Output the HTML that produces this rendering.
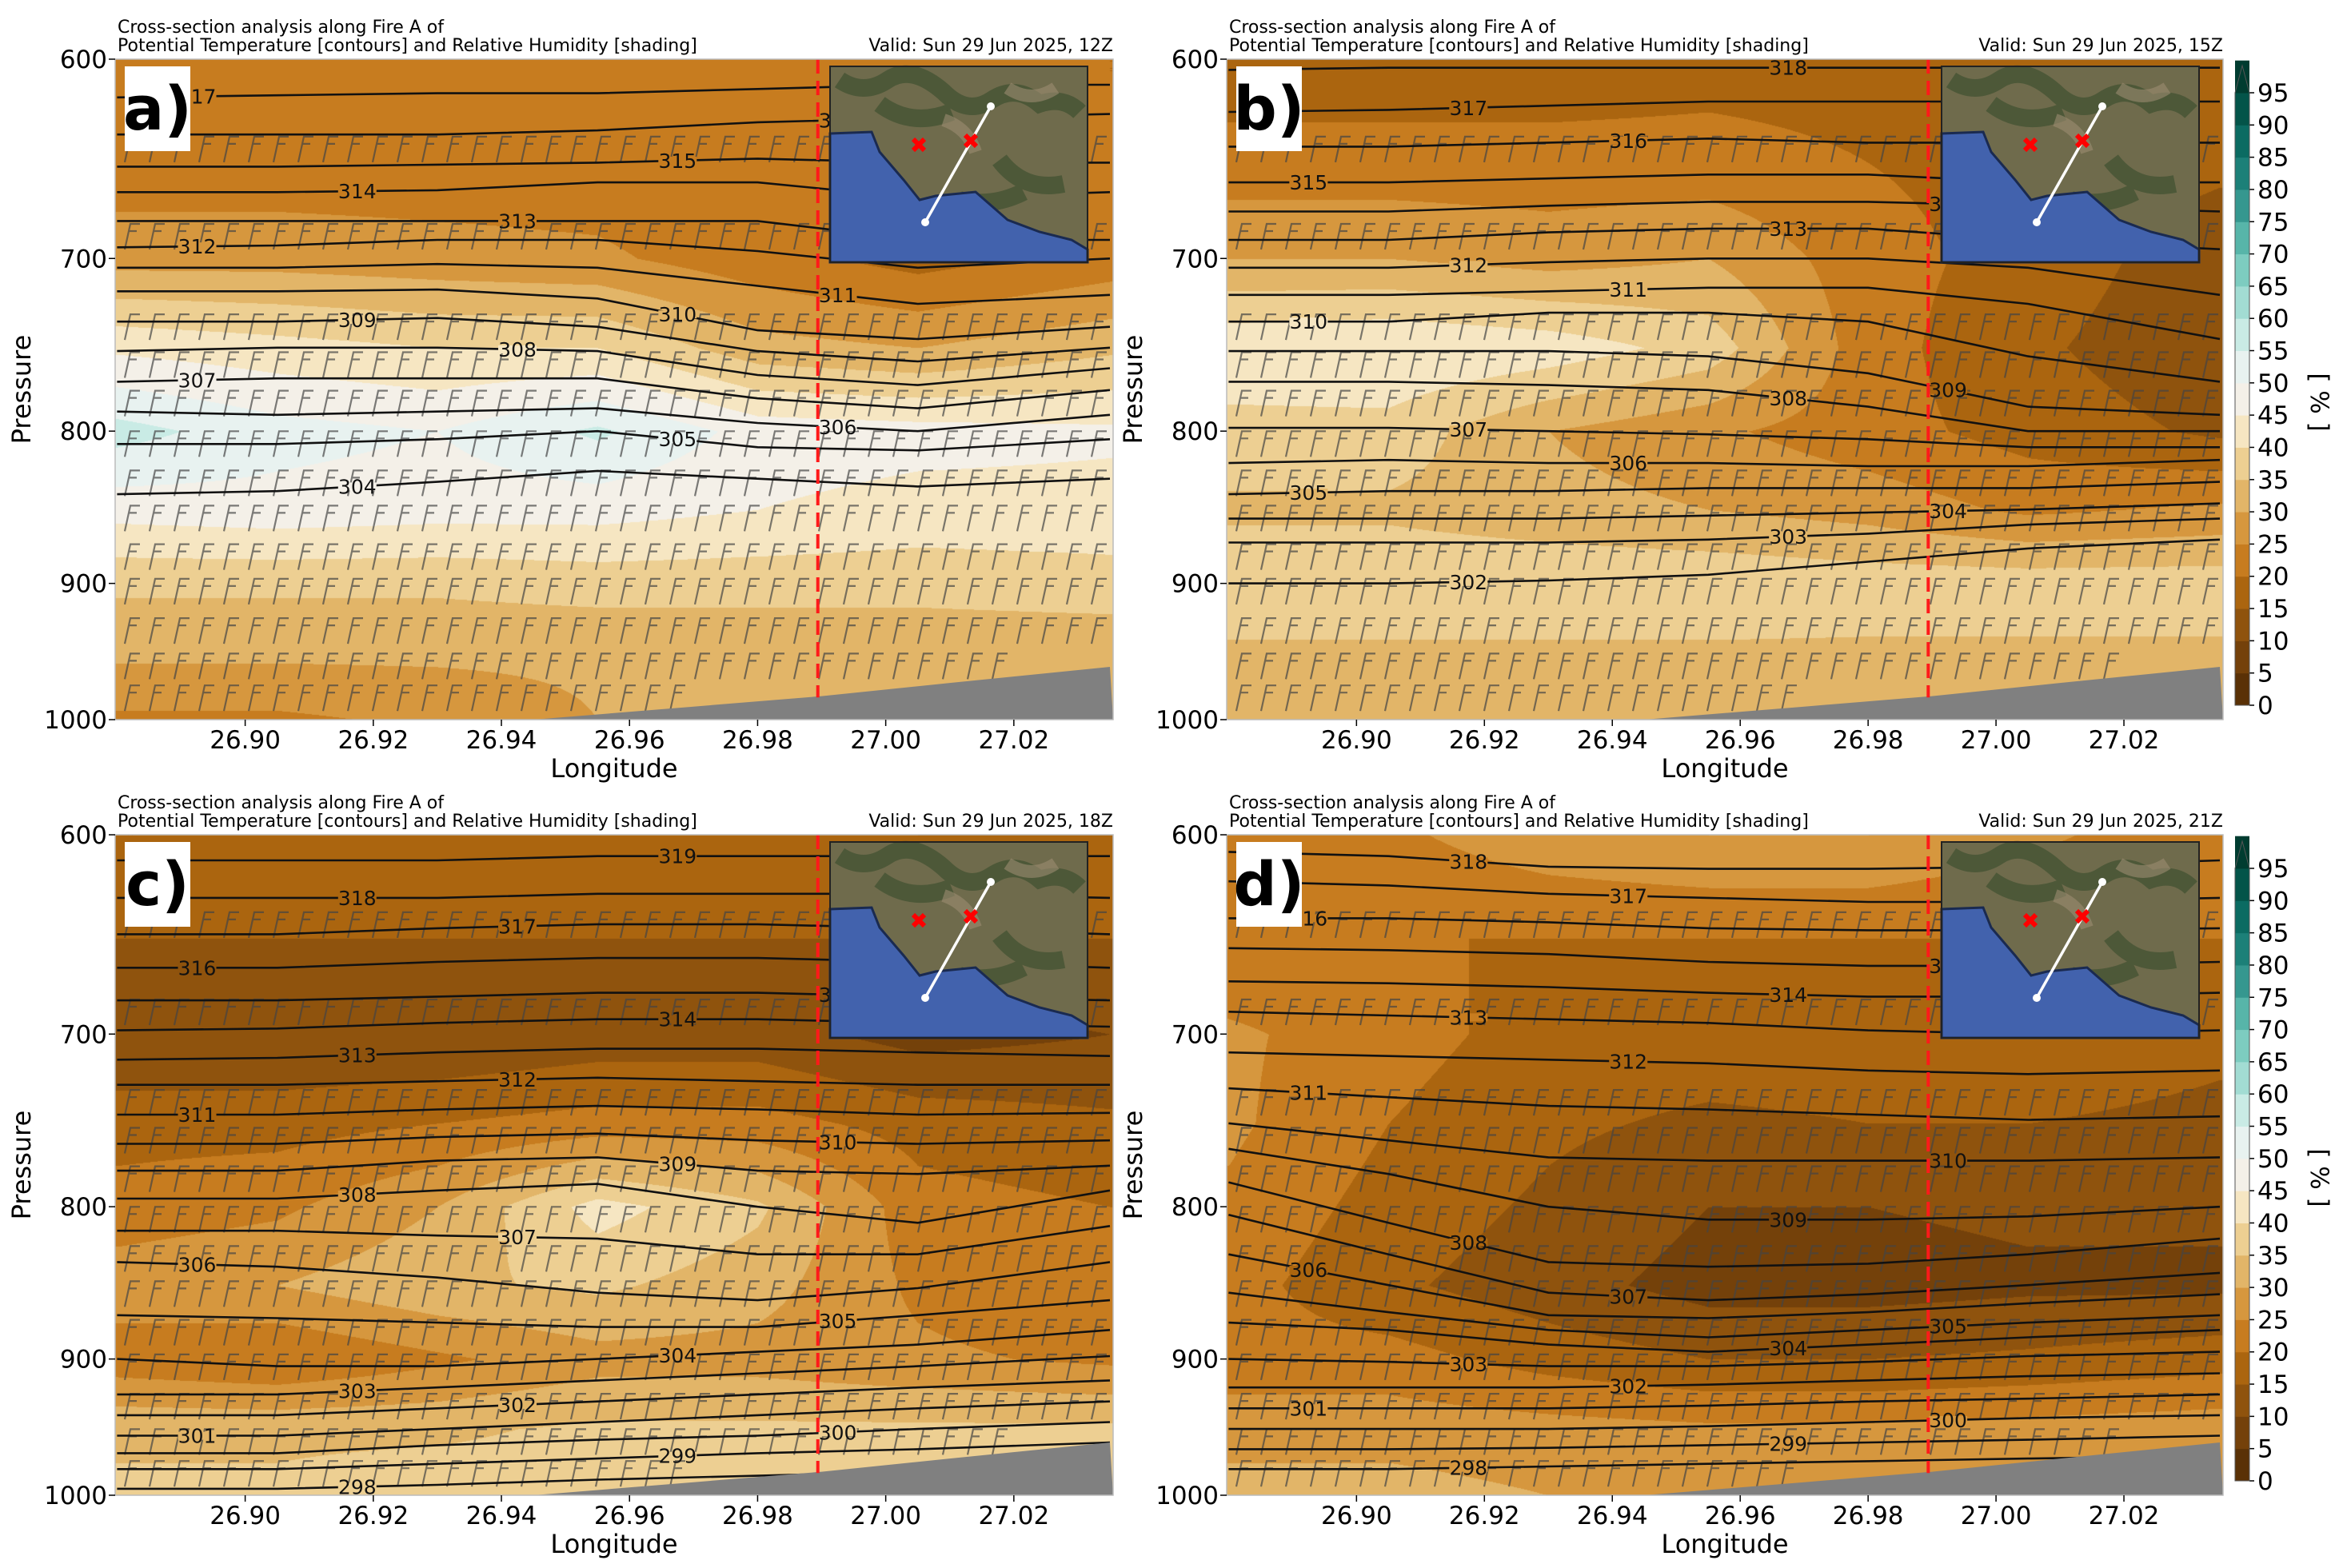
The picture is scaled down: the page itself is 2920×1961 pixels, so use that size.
<!DOCTYPE html>
<html><head><meta charset="utf-8"><style>
html,body{margin:0;padding:0;background:#fff}
#wrap{position:relative;width:2920px;height:1961px;overflow:hidden}
canvas,svg{position:absolute;left:0;top:0}
text{font-family:"DejaVu Sans","Liberation Sans",sans-serif}
</style></head><body>
<div id="wrap">
<canvas id="cv" width="2920" height="1961"></canvas>
<svg id="sv" width="2920" height="1961" xmlns="http://www.w3.org/2000/svg"></svg>
</div>
<script>
// ---- data ----
const lonCols = [26.88, 26.905, 26.93, 26.955, 26.98, 27.005, 27.035];
const presRows = [600, 650, 700, 750, 800, 850, 900, 950, 1000];
const pTicks = [600, 700, 800, 900, 1000];
const lonTicks = [26.90, 26.92, 26.94, 26.96, 26.98, 27.00, 27.02];
const cbLevels = [0,5,10,15,20,25,30,35,40,45,50,55,60,65,70,75,80,85,90,95];
const barbLevels = [645,690,740,762,785,810,835,858,884,908,936,962,986];
const panelLetters = ["a)","b)","c)","d)"];
const panelTimes = ["12Z","15Z","18Z","21Z"];
const rhA = [
[22,22,22,22,22,22,20],[22,22,22,22,20,20,20],[28,28,27,26,22,18,22],[44,42,40,40,32,30,34],
[57,52,50,56,48,47,46],[47,48,47,47,45,43,43],[36,36,36,37,37,37,38],[31,31,31,31,31,31,31],[24,24,26,30,30,30,30]];
const rhB = [
[17,17,17,18,18,18,16],[22,22,22,22,20,18,16],[30,30,28,30,22,18,12],[44,45,43,38,22,16,11],
[38,38,30,26,22,18,14],[34,34,32,30,28,24,26],[39,39,39,39,38,38,38],[34,34,34,34,34,34,34],[30,30,30,30,30,30,30]];
const rhC = [
[20,20,20,20,20,20,18],[15,15,15,15,15,15,15],[10,10,10,12,12,8,10],[18,18,20,22,22,18,16],
[22,24,30,42,36,22,20],[28,30,34,36,32,24,20],[22,20,24,28,28,26,24],[34,34,34,36,36,36,36],[36,36,38,38,38,38,38]];
const rhD = [
[22,24,28,30,30,26,22],[20,20,20,20,20,20,20],[26,22,18,18,18,18,16],[26,20,16,14,15,15,14],
[24,18,14,10,10,11,11],[22,16,12,8,8,9,9],[22,22,18,15,15,16,18],[28,28,27,26,26,27,28],[32,32,30,30,30,30,30]];
const thetaA = {317:[618,617,616,616,614,612,612],316:[636,636,636,634,630,628,626],315:[652,652,651,650,648,650,650],
314:[665,665,664,660,660,668,665],313:[680,680,680,680,680,690,690],312:[694,693,690,690,696,705,700],
311:[705,705,703,705,715,725,720],310:[718,718,717,722,740,745,738],309:[735,735,733,738,752,758,750],
308:[752,750,750,752,766,772,762],307:[770,768,768,768,780,786,775],306:[788,790,788,786,795,800,790],
305:[808,808,805,800,810,812,805],304:[840,838,832,825,830,835,830]};
const thetaB = {318:[605,604,604,604,604,604,604],317:[625,624,622,620,620,620,620],316:[642,642,640,638,640,640,640],
315:[660,660,658,656,656,660,660],314:[675,675,672,670,670,672,675],313:[690,690,686,684,684,690,695],
312:[705,705,702,700,700,705,720],311:[720,720,718,716,716,725,745],310:[735,735,730,730,735,755,770],
309:[752,752,752,755,765,785,790],308:[770,770,772,775,785,800,800],307:[798,798,800,802,805,810,810],
306:[820,818,820,820,822,822,818],305:[840,838,838,836,836,836,832],304:[856,856,856,854,852,850,846],
303:[872,872,872,870,866,860,856],302:[900,900,898,894,885,876,870]};
const thetaC = {319:[612,612,612,610,610,610,610],318:[630,630,630,628,628,628,630],317:[648,648,645,643,643,645,648],
316:[665,665,662,660,660,662,665],315:[682,682,680,678,678,680,682],314:[698,697,694,692,692,694,696],
313:[714,713,710,708,708,710,712],312:[728,728,726,724,726,728,728],311:[745,745,742,740,742,745,744],
310:[762,762,758,756,760,762,760],309:[778,778,772,770,778,780,775],308:[795,795,790,786,800,810,790],
307:[815,815,818,820,830,830,812],306:[835,838,845,855,860,852,835],305:[870,872,875,878,878,870,860],
304:[900,905,905,900,895,890,880],303:[925,925,920,915,910,905,898],302:[940,940,935,930,925,920,915],
301:[955,955,950,945,940,935,930],300:[968,968,962,958,955,950,945],299:[980,980,976,972,968,965,960],
298:[995,995,992,988,985,982,978]};
const thetaD = {318:[608,610,615,616,616,615,612],317:[622,624,628,630,632,632,630],316:[640,640,642,645,646,646,645],
315:[655,656,658,662,664,664,662],314:[672,673,675,678,680,680,678],313:[688,690,692,694,698,700,698],
312:[710,712,714,716,720,722,720],311:[730,735,740,742,745,748,746],310:[750,760,770,772,772,772,770],
309:[765,780,800,808,808,806,800],308:[785,810,835,838,836,830,820],307:[805,830,855,860,856,850,842],
306:[830,850,870,872,868,862,856],305:[855,868,880,885,880,875,870],304:[875,880,890,895,890,885,880],
303:[900,902,905,905,902,898,895],302:[920,920,920,918,915,912,910],301:[935,935,935,933,930,928,925],
300:[950,950,950,948,945,942,940],299:[965,965,964,962,960,958,955],298:[980,980,978,976,974,972,970]};
const terrainLon = [26.945, 26.97, 26.99, 27.01, 27.035];
const terrainP = [1000, 990, 982, 972, 960];
const crossLon = 26.9894;

// ---- layout ----
const panels = [
 {x:144,y:74,w:1248,h:826,rh:rhA,th:thetaA},
 {x:1534,y:74,w:1246,h:826,rh:rhB,th:thetaB},
 {x:144,y:1044,w:1248,h:826,rh:rhC,th:thetaC},
 {x:1534,y:1044,w:1246,h:826,rh:rhD,th:thetaD}];
const LON0=26.8797, LON1=27.0355;
const BINS=['#5a3106','#74410a','#8f530d','#ab650f','#c77c1f','#d6973e','#e2b568','#edcf92','#f6e6c2','#f4f0e8','#e8f2f0','#c9ebe5','#a2dcd3','#7dccc0','#57b5a9','#35978f','#1c8078','#0b6b62','#035449','#003c30'];
function hex2rgb(h){return [parseInt(h.slice(1,3),16),parseInt(h.slice(3,5),16),parseInt(h.slice(5,7),16)];}
const BINRGB=BINS.map(hex2rgb);
function binIdx(v){let i=Math.floor(v/5);if(i<0)i=0;if(i>19)i=19;return i;}
function xS(P,lon){return P.x+(lon-LON0)/(LON1-LON0)*P.w;}
function yS(P,p){return P.y+Math.log(p/600)/Math.log(1000/600)*P.h;}
function pOfY(P,y){return 600*Math.exp((y-P.y)/P.h*Math.log(1000/600));}
function lonOfX(P,x){return LON0+(x-P.x)/P.w*(LON1-LON0);}
function interp(arr,v){ if(v<=arr[0])return 0; for(let i=1;i<arr.length;i++){if(v<=arr[i])return i-1+(v-arr[i-1])/(arr[i]-arr[i-1]);} return arr.length-1;}
function rhAt(P,lon,p){const fi=interp(presRows,p),fj=interp(lonCols,lon);const i0=Math.min(Math.floor(fi),presRows.length-2),j0=Math.min(Math.floor(fj),lonCols.length-2);const a=fi-i0,b=fj-j0;const g=P.rh;return g[i0][j0]*(1-a)*(1-b)+g[i0][j0+1]*(1-a)*b+g[i0+1][j0]*a*(1-b)+g[i0+1][j0+1]*a*b;}

// ---- raster shading ----
const ctx=document.getElementById('cv').getContext('2d');
ctx.fillStyle='#fff';ctx.fillRect(0,0,2920,1961);
panels.forEach(P=>{
 const img=ctx.createImageData(P.w,P.h);
 for(let yy=0;yy<P.h;yy++){const p=pOfY(P,P.y+yy);
  for(let xx=0;xx<P.w;xx++){const c=BINRGB[binIdx(rhAt(P,lonOfX(P,P.x+xx),p))];const k=(yy*P.w+xx)*4;img.data[k]=c[0];img.data[k+1]=c[1];img.data[k+2]=c[2];img.data[k+3]=255;}}
 ctx.putImageData(img,P.x,P.y);
});

// ---- svg overlay ----
const NS='http://www.w3.org/2000/svg';const sv=document.getElementById('sv');
function el(tag,attrs,parent){const e=document.createElementNS(NS,tag);for(const k in attrs)e.setAttribute(k,attrs[k]);(parent||sv).appendChild(e);return e;}
function txt(s,attrs,parent){const e=el('text',attrs,parent);e.textContent=s;return e;}
function terrainAt(lon){if(lon<terrainLon[0])return 1000;for(let k=1;k<terrainLon.length;k++){if(lon<=terrainLon[k])return terrainP[k-1]+(terrainP[k]-terrainP[k-1])*(lon-terrainLon[k-1])/(terrainLon[k]-terrainLon[k-1]);}return terrainP[terrainP.length-1];}

panels.forEach((P,pi)=>{
 const g=el('g',{});
 
 
 // wind barbs
 let d='';
 barbLevels.forEach(p=>{const y=yS(P,p);
  for(let x=P.x+12;x<P.x+P.w-10;x+=31){
   const lon=lonOfX(P,x); if(p>terrainAt(lon)-5)continue;
   d+=`M${x.toFixed(1)} ${(y+12).toFixed(1)}L${(x+7).toFixed(1)} ${(y-20).toFixed(1)}l12 0M${(x+5).toFixed(1)} ${(y-11).toFixed(1)}l10 0`;}});
 const barbs=el('path',{d:d,stroke:'#444','stroke-opacity':'0.7','stroke-width':'2.2',fill:'none'},g);
 
 
 // theta contours
 Object.keys(P.th).forEach((th,ti)=>{const arr=P.th[th];
  const pts=lonCols.map((lon,j)=>[xS(P,Math.max(lon,LON0)),yS(P,arr[j])]);
  const line=el('path',{d:'M'+pts.map(q=>q[0].toFixed(1)+' '+q[1].toFixed(1)).join('L'),stroke:'#111','stroke-width':'2.6',fill:'none'},g);
  
  
  const j=[1,3,4,0,2][ti%5];const lx=(pts[j][0]+pts[j+1][0])/2, ly=(pts[j][1]+pts[j+1][1])/2;
  const bc=BINS[binIdx(rhAt(P,lonOfX(P,lx),pOfY(P,ly)))];
  el('rect',{x:lx-24,y:ly-5,width:48,height:10,fill:bc},g);
  const lb=txt(th,{x:lx,y:ly+9,'font-size':'25','text-anchor':'middle',fill:'#111','font-family':'Liberation Sans, sans-serif'},g);
  
  
 });
 // terrain
 let td=`M${xS(P,terrainLon[0])} ${P.y+P.h}`;terrainLon.forEach((lon,k)=>{td+=`L${xS(P,lon).toFixed(1)} ${yS(P,terrainP[k]).toFixed(1)}`;});td+=`L${P.x+P.w} ${P.y+P.h}Z`;
 const ter=el('path',{d:td,fill:'#808080'},g);
 
 
 // cross line
 const cl=el('line',{x1:xS(P,crossLon),x2:xS(P,crossLon),y1:P.y,y2:yS(P,983),stroke:'#ff1a1a','stroke-width':'4','stroke-dasharray':'18 9'},g);
 
 
 // inset map
 const ox=P.x-144, oy=P.y-74;
 const ig=el('g',{transform:`translate(${ox},${oy})`},g);
 
 
 el('rect',{x:1038,y:83,width:322,height:245,fill:'#6f6b4c'},ig);
 el('path',{d:'M1050 100q30 20 60 0t70 15q30 30 60 10t60 5q30 -10 50 10M1100 130q40 30 90 10M1250 200q30 40 80 30M1200 250q40 10 80 -10',stroke:'#3e5030','stroke-width':'22',fill:'none','stroke-opacity':'0.7'},ig);
 el('path',{d:'M1260 110q30 20 60 0M1180 150q30 10 40 40',stroke:'#9d8c72','stroke-width':'16',fill:'none','stroke-opacity':'0.6'},ig);
 el('path',{d:'M1038 167L1090 165L1100 190L1130 225L1150 250L1170 245L1220 240L1260 275L1300 290L1340 300L1360 312L1360 328L1038 328Z',fill:'#4262ad',stroke:'#1a2a50','stroke-width':'3'},ig);
 el('rect',{x:1038,y:83,width:322,height:245,fill:'none',stroke:'#222','stroke-width':'2'},ig);
 el('line',{x1:1157,y1:278,x2:1239,y2:133,stroke:'#fff','stroke-width':'3.5'},ig);
 el('circle',{cx:1157,cy:278,r:5,fill:'#fff'},ig);el('circle',{cx:1239,cy:133,r:5,fill:'#fff'},ig);
 el('path',{d:'M1142 174l14 14M1156 174l-14 14M1207 169l14 14M1221 169l-14 14',stroke:'#f00','stroke-width':'6'},ig);
 // frame
 el('rect',{x:P.x,y:P.y,width:P.w,height:P.h,fill:'none',stroke:'#bbb','stroke-width':'1.5'},g);
 // panel letter
 const lg=el('g',{},g);
 
 
 el('rect',{x:P.x+12,y:P.y+9,width:82,height:106,fill:'#fff'},lg);
 txt(panelLetters[pi],{x:P.x+53,y:P.y+88,'font-size':'76','font-weight':'bold','text-anchor':'middle',fill:'#000','font-family':'Liberation Sans, sans-serif'},lg);
 // ticks
 pTicks.forEach(p=>{const y=yS(P,p);el('line',{x1:P.x-8,x2:P.x,y1:y,y2:y,stroke:'#000','stroke-width':'1.5'},g);
  const t=txt(String(p),{x:P.x-10,y:y+11,'font-size':'31','text-anchor':'end',fill:'#000'},g);
  
  });
 lonTicks.forEach(l=>{const x=xS(P,l);el('line',{x1:x,x2:x,y1:P.y+P.h,y2:P.y+P.h+8,stroke:'#000','stroke-width':'1.5'},g);
  const t=txt(l.toFixed(2),{x:x,y:P.y+P.h+36,'font-size':'31','text-anchor':'middle',fill:'#000'},g);
  
  });
 const xl=txt('Longitude',{x:P.x+P.w/2,y:P.y+P.h+72,'font-size':'32','text-anchor':'middle',fill:'#000'},g);
 
 
 const yl=txt('Pressure',{x:0,y:0,'font-size':'32','text-anchor':'middle',fill:'#000',transform:`translate(${P.x-106},${P.y+P.h/2}) rotate(-90)`},g);
 
 
 const t1=txt('Cross-section analysis along Fire A of',{x:P.x+3,y:P.y-33,'font-size':'22',fill:'#000','font-family':'Liberation Sans, sans-serif'},g);
 
 
 const t2=txt('Potential Temperature [contours] and Relative Humidity [shading]',{x:P.x+3,y:P.y-10,'font-size':'22',fill:'#000','font-family':'Liberation Sans, sans-serif'},g);
 
 
 const t3=txt('Valid: Sun 29 Jun 2025, '+panelTimes[pi],{x:P.x+P.w,y:P.y-10,'font-size':'22','text-anchor':'end',fill:'#000','font-family':'Liberation Sans, sans-serif'},g);
 
 
});

// colorbars
[0,970].forEach(off=>{
 const g=el('g',{});
 
 
 const x0=2795,w=18,top=116+off,bot=882+off,step=(bot-top)/19;
 cbLevels.forEach((lv,i)=>{
  el('rect',{x:x0,y:bot-(i+1)*step,width:w,height:step+0.5,fill:BINS[binIdx(lv+2.5)]},g);
  el('line',{x1:x0+w,x2:x0+w+6,y1:bot-i*step,y2:bot-i*step,stroke:'#000','stroke-width':'1.5'},g);
  const t=txt(String(lv),{x:x0+w+10,y:bot-i*step+11,'font-size':'31',fill:'#000'},g);
  
  });
 el('path',{d:`M${x0} ${top}L${x0+w/2} ${top-34}L${x0+w} ${top}Z`,fill:BINS[19]},g);
 el('path',{d:`M${x0} ${top}L${x0+w/2} ${top-34}L${x0+w} ${top}L${x0+w} ${bot}L${x0} ${bot}Z`,fill:'none',stroke:'#555','stroke-width':'1'},g);
 const u=txt('[ % ]',{x:0,y:0,'font-size':'31','text-anchor':'middle',fill:'#000',transform:`translate(2890,${503+off}) rotate(90)`},g);
 
 
});
</script>
</body></html>
